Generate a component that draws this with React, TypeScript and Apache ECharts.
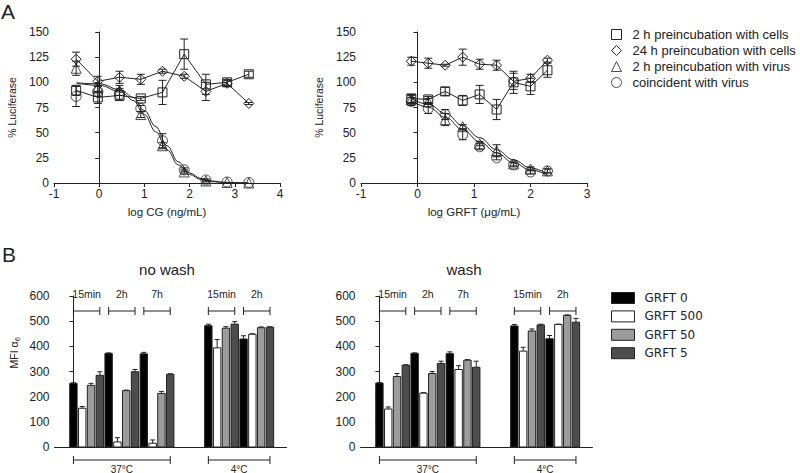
import React, { useEffect, useRef } from 'react';
import * as echarts from 'echarts';

// ---------- Panel A data ----------
const CONDITIONS = [
  '2 h preincubation with cells',
  '24 h preincubation with cells',
  '2 h preincubation with virus',
  'coincident with virus',
];
const CONDITION_ICONS = ['rect', 'diamond', 'triangle', 'circle'];

const CG_X = [-0.51, -0.03, 0.45, 0.92, 1.4, 1.88, 2.36, 2.83, 3.31];
const CG_CELLS_2H = [92, 85, 87, 84, 90, 128, 98, 100, 108];
const CG_CELLS_2H_ERR = [5, 6, 5, 2, 12, 15, 10, 3, 3];
const CG_CELLS_24H = [123, 101, 105, 103, 111, 106, 91, 99, 79];
const CG_CELLS_24H_ERR = [7, 5, 6, 5, 2, 2, 9, 3, 1];
const CG_VIRUS_2H = [114, 95, 92, 68, 37, 11, 2, 0.5, 0];
const CG_VIRUS_2H_ERR = [7, 4, 5, 3, 3, 2, 1, 0, 0];
const CG_COINCIDENT = [86, 91, 88, 74, 42, 13, 3, 1, 0.5];
const CG_COINCIDENT_ERR = [10, 5, 6, 3, 7, 2, 1, 0, 0];
const CG_FIT_X = [-0.5, 0, 0.5, 0.75, 1.0, 1.25, 1.5, 1.75, 2.0, 2.25, 2.5, 2.75, 3.0, 3.3];
const CG_FIT_VIRUS = [99, 97, 90, 82, 68, 51, 33, 18, 8.5, 3.5, 1.3, 0.5, 0.2, 0];
const CG_FIT_COINCIDENT = [99.5, 98.5, 92, 85, 72, 56, 37, 21, 10, 4.5, 2, 0.8, 0.3, 0.1];

const GRFT_X = [-0.11, 0.19, 0.49, 0.8, 1.1, 1.4, 1.7, 2.0, 2.3];
const GRFT_CELLS_2H = [84, 83, 91, 82, 88, 73, 100, 96, 112];
const GRFT_CELLS_2H_ERR = [4, 3, 4, 5, 9, 10, 11, 8, 7];
const GRFT_CELLS_24H = [121, 119, 117, 125, 118, 117, 101, 104, 122];
const GRFT_CELLS_24H_ERR = [4, 5, 1, 8, 5, 5, 8, 4, 2];
const GRFT_VIRUS_2H = [83, 81, 63, 56, 39, 32, 19, 14, 12];
const GRFT_VIRUS_2H_ERR = [4, 3, 6, 2, 2, 6, 2, 2, 2];
const GRFT_COINCIDENT = [81, 74, 68, 48, 36, 25, 18, 11, 12];
const GRFT_COINCIDENT_ERR = [4, 5, 5, 5, 3, 2, 2, 2, 2];
const GRFT_FIT_X = [-0.11, 0.2, 0.5, 0.8, 1.1, 1.4, 1.7, 2.0, 2.3];
const GRFT_FIT_VIRUS = [84, 78, 69, 57, 45, 33, 23, 15, 9];
const GRFT_FIT_COINCIDENT = [82, 75, 65, 53, 41, 30, 20, 13, 8];

// ---------- Panel B data ----------
const GRFT_NAMES = ['GRFT 0', 'GRFT 500', 'GRFT 50', 'GRFT 5'];
const TIME_LABELS = ['15min', '2h', '7h', '15min', '2h'];
const GROUP_TEMP = [0, 0, 0, 1, 1];
const TEMP_LABELS = ['37°C', '4°C'];

const NOWASH = [
  [253, 372, 370, 482, 429],
  [154, 20, 15, 394, 448],
  [245, 224, 213, 472, 474],
  [285, 299, 289, 488, 476],
];
const NOWASH_ERR = [
  [2, 2, 6, 6, 13],
  [7, 17, 13, 33, 2],
  [8, 2, 8, 6, 3],
  [14, 9, 2, 10, 2],
];
const WASH = [
  [254, 372, 371, 481, 430],
  [151, 214, 308, 381, 487],
  [280, 292, 345, 461, 523],
  [325, 332, 317, 485, 496],
];
const WASH_ERR = [
  [2, 2, 7, 6, 13],
  [8, 2, 15, 15, 1],
  [12, 8, 2, 8, 2],
  [2, 9, 24, 3, 15],
];

// ---------- styles ----------
const FONT = '"Liberation Sans", Arial, sans-serif';
const INK = '#222';
const BAR_FILL = ['#000000', '#ffffff', '#9c9c9c', '#4d4d4d'];
const TEMP_GAP = 3.33;

const slot = (g: number, k: number) => g * 4 + k + (GROUP_TEMP[g] === 1 ? TEMP_GAP : 0);

const axisCommon = {
  axisLine: { show: true, lineStyle: { color: INK, width: 1 } },
  axisTick: { show: true, length: 4, lineStyle: { color: INK, width: 1 } },
  axisLabel: { color: INK, fontSize: 12, fontFamily: FONT, margin: 5 },
  splitLine: { show: false },
  nameTextStyle: { color: INK, fontFamily: FONT },
};

function errRender(params: any, api: any) {
  const x = api.value(0), lo = api.value(1), hi = api.value(2);
  const a = api.coord([x, lo]);
  const b = api.coord([x, hi]);
  const w = 4;
  const st = { stroke: INK, lineWidth: 1 };
  return {
    type: 'group',
    children: [
      { type: 'line', shape: { x1: a[0], y1: a[1], x2: b[0], y2: b[1] }, style: st },
      { type: 'line', shape: { x1: a[0] - w, y1: a[1], x2: a[0] + w, y2: a[1] }, style: st },
      { type: 'line', shape: { x1: b[0] - w, y1: b[1], x2: b[0] + w, y2: b[1] }, style: st },
    ],
  };
}

function errData(xs: number[], ys: number[], es: number[]) {
  return xs.map((x, i) => [x, ys[i] - es[i], ys[i] + es[i]]).filter((d, i) => es[i] > 0);
}

function topSeries(ax: number, xs: number[], sets: number[][], errs: number[][], fitX: number[], fitV: number[], fitC: number[]) {
  const allErr: number[][] = [];
  sets.forEach((s, i) => allErr.push(...errData(xs, s, errs[i])));
  const marker = { color: 'rgba(0,0,0,0)', borderColor: INK, borderWidth: 1 };
  const pts = (ys: number[]) => xs.map((x, i) => [x, ys[i]]);
  return [
    {
      type: 'custom', xAxisIndex: ax, yAxisIndex: ax, renderItem: errRender,
      data: allErr, encode: { x: 0, y: [1, 2] }, silent: true, z: 1,
    },
    {
      type: 'line', name: CONDITIONS[0], xAxisIndex: ax, yAxisIndex: ax, data: pts(sets[0]),
      symbol: 'rect', symbolSize: 9, itemStyle: marker, lineStyle: { color: INK, width: 1 }, z: 3,
    },
    {
      type: 'line', name: CONDITIONS[1], xAxisIndex: ax, yAxisIndex: ax, data: pts(sets[1]),
      symbol: 'diamond', symbolSize: 10, itemStyle: marker, lineStyle: { color: INK, width: 1 }, z: 3,
    },
    {
      type: 'scatter', name: CONDITIONS[2], xAxisIndex: ax, yAxisIndex: ax, data: pts(sets[2]),
      symbol: 'triangle', symbolSize: 10, itemStyle: marker, z: 3,
    },
    {
      type: 'scatter', name: CONDITIONS[3], xAxisIndex: ax, yAxisIndex: ax, data: pts(sets[3]),
      symbol: 'circle', symbolSize: 10, itemStyle: marker, z: 3,
    },
    {
      type: 'line', name: 'fit virus', xAxisIndex: ax, yAxisIndex: ax,
      data: fitX.map((x, i) => [x, fitV[i]]), showSymbol: false, symbol: 'none',
      smooth: 0.4, smoothMonotone: 'x', lineStyle: { color: INK, width: 1 }, z: 2,
    },
    {
      type: 'line', name: 'fit coincident', xAxisIndex: ax, yAxisIndex: ax,
      data: fitX.map((x, i) => [x, fitC[i]]), showSymbol: false, symbol: 'none',
      smooth: 0.4, smoothMonotone: 'x', lineStyle: { color: INK, width: 1 }, z: 2,
    },
  ];
}

function barRender(fill: string) {
  return (params: any, api: any) => {
    const x = api.value(0), v = api.value(1), e = api.value(2);
    const base = api.coord([x, 0]);
    const top = api.coord([x, v]);
    const et = api.coord([x, v + e]);
    const bw = 7.4;
    const st = { stroke: INK, lineWidth: 1 };
    const children: any[] = [];
    if (e > 0) {
      children.push(
        { type: 'line', shape: { x1: top[0], y1: top[1], x2: top[0], y2: et[1] }, style: st },
        { type: 'line', shape: { x1: top[0] - 2.5, y1: et[1], x2: top[0] + 2.5, y2: et[1] }, style: st },
      );
    }
    children.push({
      type: 'rect',
      shape: { x: base[0] - bw / 2, y: top[1], width: bw, height: base[1] - top[1] },
      style: { fill, stroke: INK, lineWidth: 1 },
    });
    return { type: 'group', children };
  };
}

function bracketRender(params: any, api: any) {
  const s = api.value(0), e = api.value(1), kind = api.value(2), idx = api.value(3);
  const st = { stroke: INK, lineWidth: 1 };
  let a, b, y, ly, label, fs;
  if (kind === 0) {
    a = api.coord([s, 600]);
    b = api.coord([e, 600]);
    y = a[1] + 15;
    ly = a[1] - 2;
    label = TIME_LABELS[idx];
    fs = 10.5;
  } else {
    a = api.coord([s, 0]);
    b = api.coord([e, 0]);
    y = a[1] + 13;
    ly = a[1] + 22;
    label = TEMP_LABELS[idx];
    fs = 10;
  }
  const t = 4;
  return {
    type: 'group',
    children: [
      { type: 'line', shape: { x1: a[0], y1: y, x2: b[0], y2: y }, style: st },
      { type: 'line', shape: { x1: a[0], y1: y - t, x2: a[0], y2: y + t }, style: st },
      { type: 'line', shape: { x1: b[0], y1: y - t, x2: b[0], y2: y + t }, style: st },
      {
        type: 'text', x: (a[0] + b[0]) / 2, y: ly,
        style: { text: label, fill: INK, fontSize: fs, fontFamily: FONT, align: 'center', verticalAlign: 'middle' },
      },
    ],
  };
}

function bottomSeries(ax: number, vals: number[][], errs: number[][]) {
  const series: any[] = GRFT_NAMES.map((name, k) => ({
    type: 'custom', name, xAxisIndex: ax, yAxisIndex: ax,
    renderItem: barRender(BAR_FILL[k]),
    itemStyle: { color: BAR_FILL[k], borderColor: INK, borderWidth: 1 },
    data: vals[k].map((v, g) => [slot(g, k), v, errs[k][g]]),
    encode: { x: 0, y: 1 }, clip: false,
  }));
  const brackets: number[][] = TIME_LABELS.map((_, g) => [slot(g, 0), slot(g, 3), 0, g]);
  TEMP_LABELS.forEach((_, t) => {
    const gs = GROUP_TEMP.map((tt, g) => (tt === t ? g : -1)).filter((g) => g >= 0);
    brackets.push([slot(gs[0], 0), slot(gs[gs.length - 1], 3), 1, t]);
  });
  series.push({
    type: 'custom', xAxisIndex: ax, yAxisIndex: ax, renderItem: bracketRender,
    data: brackets, encode: { x: [0, 1] }, silent: true, clip: false,
  });
  return series;
}

export default function App() {
  const ref = useRef<HTMLDivElement>(null);
  useEffect(() => {
    if (!ref.current) return;
    const chart = echarts.init(ref.current, undefined, { renderer: 'svg' });
    const bottomX = { type: 'value', min: -2.15, max: 24.21, show: true, axisLine: axisCommon.axisLine, axisTick: { show: false }, axisLabel: { show: false }, splitLine: { show: false } };
    const bottomY = { type: 'value', min: 0, max: 600, interval: 100, ...axisCommon };
    const option: any = {
      animation: false,
      backgroundColor: '#fff',
      textStyle: { fontFamily: FONT },
      grid: [
        { left: 54, top: 32, width: 226, height: 151 },
        { left: 361, top: 32, width: 226, height: 151 },
        { left: 54.5, top: 296, width: 232, height: 151 },
        { left: 360.5, top: 296, width: 232, height: 151 },
      ],
      xAxis: [
        {
          gridIndex: 0, type: 'value', min: -1, max: 4, interval: 1, ...axisCommon,
          name: 'log CG (ng/mL)', nameLocation: 'middle', nameGap: 23,
          nameTextStyle: { color: INK, fontFamily: FONT, fontSize: 11.5 },
        },
        {
          gridIndex: 1, type: 'value', min: -1, max: 3, interval: 1, ...axisCommon,
          name: 'log GRFT (μg/mL)', nameLocation: 'middle', nameGap: 23,
          nameTextStyle: { color: INK, fontFamily: FONT, fontSize: 11.5 },
        },
        { gridIndex: 2, ...bottomX },
        { gridIndex: 3, ...bottomX },
      ],
      yAxis: [
        {
          gridIndex: 0, type: 'value', min: 0, max: 150, interval: 25, ...axisCommon,
          name: '% Luciferase', nameLocation: 'middle', nameGap: 37,
          nameTextStyle: { color: INK, fontFamily: FONT, fontSize: 10.5 },
        },
        {
          gridIndex: 1, type: 'value', min: 0, max: 150, interval: 25, ...axisCommon,
          name: '% Luciferase', nameLocation: 'middle', nameGap: 37,
          nameTextStyle: { color: INK, fontFamily: FONT, fontSize: 10.5 },
        },
        { gridIndex: 2, ...bottomY },
        { gridIndex: 3, ...bottomY },
      ],
      legend: [
        {
          orient: 'vertical', left: 606, top: 23, itemWidth: 10, itemHeight: 10, itemGap: 3,
          selectedMode: false,
          textStyle: { fontSize: 13, fontFamily: FONT, color: INK, lineHeight: 10, padding: [0, 0, 0, 6] },
          data: CONDITIONS.map((n, i) => ({
            name: n, icon: CONDITION_ICONS[i],
            itemStyle: { color: 'rgba(0,0,0,0)', borderColor: INK, borderWidth: 1 },
          })),
        },
        {
          orient: 'vertical', left: 606, top: 287, itemWidth: 23, itemHeight: 11, itemGap: 6.4,
          selectedMode: false,
          textStyle: { fontSize: 12, fontFamily: '"DejaVu Sans", sans-serif', color: INK, lineHeight: 11, padding: [0, 0, 0, 5] },
          data: GRFT_NAMES.map((n, k) => ({
            name: n, icon: 'rect',
            itemStyle: { color: BAR_FILL[k], borderColor: INK, borderWidth: 1 },
          })),
        },
      ],
      graphic: [
        { type: 'text', left: 1, top: 1, style: { text: 'A', fontSize: 21, fontFamily: FONT, fill: INK } },
        { type: 'text', left: 2, top: 244, style: { text: 'B', fontSize: 21, fontFamily: FONT, fill: INK } },
        { type: 'text', x: 167, y: 269, style: { text: 'no wash', fontSize: 15, fontFamily: FONT, fill: INK, align: 'center', verticalAlign: 'middle' } },
        { type: 'text', x: 464, y: 269, style: { text: 'wash', fontSize: 15, fontFamily: FONT, fill: INK, align: 'center', verticalAlign: 'middle' } },
        {
          type: 'group', x: 14, y: 352, rotation: Math.PI / 2,
          children: [
            { type: 'text', x: -3, y: 0, style: { text: 'MFI α', fontSize: 10.5, fontFamily: FONT, fill: INK, align: 'center', verticalAlign: 'middle' } },
            { type: 'text', x: 10.8, y: 3, style: { text: '6', fontSize: 7.5, fontFamily: FONT, fill: INK, align: 'left', verticalAlign: 'middle' } },
          ],
        },
      ],
      series: [
        ...topSeries(0, CG_X,
          [CG_CELLS_2H, CG_CELLS_24H, CG_VIRUS_2H, CG_COINCIDENT],
          [CG_CELLS_2H_ERR, CG_CELLS_24H_ERR, CG_VIRUS_2H_ERR, CG_COINCIDENT_ERR],
          CG_FIT_X, CG_FIT_VIRUS, CG_FIT_COINCIDENT),
        ...topSeries(1, GRFT_X,
          [GRFT_CELLS_2H, GRFT_CELLS_24H, GRFT_VIRUS_2H, GRFT_COINCIDENT],
          [GRFT_CELLS_2H_ERR, GRFT_CELLS_24H_ERR, GRFT_VIRUS_2H_ERR, GRFT_COINCIDENT_ERR],
          GRFT_FIT_X, GRFT_FIT_VIRUS, GRFT_FIT_COINCIDENT),
        ...bottomSeries(2, NOWASH, NOWASH_ERR),
        ...bottomSeries(3, WASH, WASH_ERR),
      ],
    };
    chart.setOption(option);
    return () => chart.dispose();
  }, []);
  return (
    <div
      ref={ref}
      style={{ position: 'fixed', left: 0, top: 0, width: 800, height: 473, background: '#fff' }}
    />
  );
}
